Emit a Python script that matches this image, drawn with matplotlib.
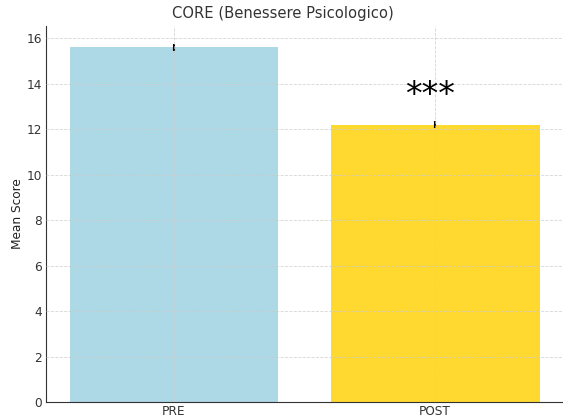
import matplotlib
matplotlib.use("Agg")
import matplotlib.pyplot as plt

groups = ["PRE", "POST"]
means = [15.6, 12.2]
errors = [0.15, 0.17]
colors = ["lightblue", "#FFD92F"]
sig_label = "***"

fig = plt.figure(figsize=(5.63, 4.18), dpi=100)
ax = fig.add_axes([46/563, 16/418, (563-46)/563, (402-26)/418])

ax.bar(groups, means, yerr=errors, color=colors, width=0.8, capsize=0,
       error_kw=dict(ecolor="black", elinewidth=1.5))
ax.set_axisbelow(False)
ax.grid(True, linestyle="--", color="#cccccc", linewidth=0.6, alpha=0.8)
for s in ["top", "right"]:
    ax.spines[s].set_visible(False)
for s in ["left", "bottom"]:
    ax.spines[s].set_color("#333333")
ax.tick_params(colors="#333333", labelsize=8.7, length=0)
ax.tick_params(axis="x", pad=2)
ax.tick_params(axis="y", pad=3)
ax.set_ylabel("Mean Score", fontsize=8.7, color="#222222", labelpad=2)
ax.set_title("CORE (Benessere Psicologico)", fontsize=10.6, color="#333333",
             x=(283-46)/517)
ax.text(1 - 0.02, means[1] + 0.55, sig_label, ha="center", va="bottom", fontsize=24)

fig.savefig("out.png", dpi=100)
